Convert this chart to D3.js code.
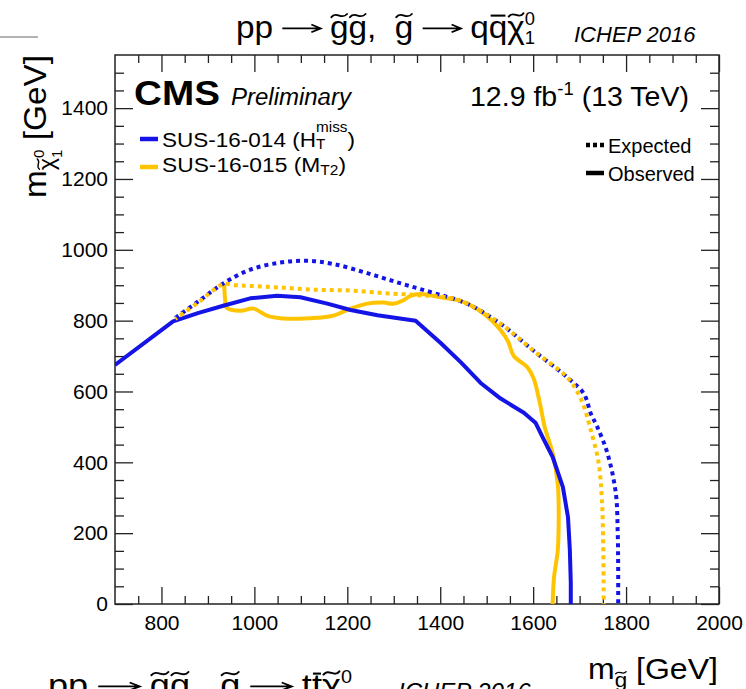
<!DOCTYPE html>
<html>
<head>
<meta charset="utf-8">
<script src="https://cdn.jsdelivr.net/npm/d3@7"></script>
<style>
  html, body { margin: 0; padding: 0; background: #fff; }
  svg { display: block; }
</style>
</head>
<body>
<svg id="chart" width="746" height="689"></svg>
<script>
// ---- Axis ticks -------------------------------------------------------
const gluinoMajorTicks = [800, 1000, 1200, 1400, 1600, 1800, 2000];
const lspMajorTicks = [0, 200, 400, 600, 800, 1000, 1200, 1400];

// ---- Exclusion contours: [m(gluino), m(LSP)] in GeV ----------------------
// SUS-16-014 (H_T^miss), observed
const obs014 = [[700,675],[825,798],[880,822],[933,842],[991,863],[1049,870],[1099,866],
  [1157,848],[1207,830],[1265,815],[1347,800],[1401,737],[1444,683],[1487,624],[1530,580],
  [1580,540],[1605,512],[1620,472],[1642,415],[1664,330],[1675,245],[1679,152],[1681,60],[1681,0]];
// SUS-16-014 (H_T^miss), expected
const exp014 = [[830,808],[880,855],[933,905],[991,944],[1056,964],[1114,969],[1170,960],
  [1243,934],[1315,905],[1386,878],[1459,847],[1530,791],[1601,715],[1674,639],[1709,594],
  [1724,538],[1738,500],[1760,425],[1778,312],[1782,200],[1783,100],[1783,0]];
// SUS-16-015 (M_T2), observed
const obs015 = [[935,905],[937,860],[940,837],[970,828],[998,834],[1027,814],[1062,806],
  [1135,808],[1170,814],[1207,834],[1243,848],[1278,851],[1299,848],[1320,857],[1336,870],
  [1358,875],[1401,866],[1444,856],[1480,833],[1515,795],[1545,744],[1558,701],[1588,668],
  [1601,637],[1614,570],[1625,499],[1642,425],[1653,340],[1655,245],[1653,152],[1645,76],[1642,0]];
// SUS-16-015 (M_T2), expected
const exp015 = [[830,805],[880,852],[933,903],[960,900],[991,898],[1062,893],[1135,887],
  [1207,885],[1278,878],[1351,872],[1422,864],[1459,847],[1530,791],[1601,715],[1674,639],
  [1698,592],[1710,555],[1722,500],[1740,406],[1748,293],[1751,152],[1752,0]];

const BLUE = "#1414e6";
const GOLD = "#ffc400";
const FONT = "'Liberation Sans', Arial, Helvetica, sans-serif";

const svg = d3.select("#chart");
svg.append("rect").attr("width", 746).attr("height", 689).attr("fill", "#fff");

const frame = { left: 115, right: 719, top: 55, bottom: 604 };
const x = d3.scaleLinear().domain([700, 2000]).range([frame.left, frame.right]);
const y = d3.scaleLinear().domain([0, 1550]).range([frame.bottom, frame.top]);

const xMinor = d3.range(750, 2000, 50).filter(v => v % 200 !== 0);
const yMinor = d3.range(50, 1550, 50).filter(v => v % 200 !== 0);

// ---- Rich text: sequential segments with sub/superscripts, accents, arrows ----
function richText(parent, segs, o) {
  const size = o.size;
  const color = o.color || "#000";
  const g = parent.append("g");
  const inner = g.append("g");
  let cx = 0, stackX = 0, stackW = 0;
  segs.forEach(s => {
    const fs = size * (s.s || 1);
    if (s.arrow) {
      // long right arrow drawn as a path
      const w = s.arrow * fs, ay = -0.3 * fs, h = 0.12 * fs;
      inner.append("path")
        .attr("d", `M${cx},${ay} L${cx + w - 0.04 * fs},${ay} M${cx + w - 0.28 * fs},${ay - h} L${cx + w},${ay} L${cx + w - 0.28 * fs},${ay + h}`)
        .attr("fill", "none").attr("stroke", color)
        .attr("stroke-width", fs * 0.055).attr("stroke-linejoin", "miter");
      cx += w;
      return;
    }
    const sx = s.stack === 2 ? stackX : cx;
    const by = (s.dy || 0) * size;
    const t = inner.append("text")
      .attr("x", sx).attr("y", by)
      .attr("font-size", fs)
      .attr("font-family", FONT)
      .attr("font-style", s.it ? "italic" : null)
      .attr("font-weight", s.b ? "bold" : null)
      .attr("fill", color)
      .style("white-space", "pre")
      .text(s.t);
    const w = t.node().getComputedTextLength();
    if (s.acc) {
      const ay = by - fs * (s.accY || 0.7);
      if (s.acc === "tilde") {
        const mid = sx + w / 2 + (s.accDx || 0) * fs;
        const hw = w * 0.42, a = fs * 0.05;
        inner.append("path")
          .attr("d", `M${mid - hw},${ay + a} C${mid - hw * 0.3},${ay - a * 3} ${mid + hw * 0.3},${ay + a * 3} ${mid + hw},${ay - a}`)
          .attr("fill", "none").attr("stroke", color)
          .attr("stroke-width", fs * 0.06).attr("stroke-linecap", "round");
      } else if (s.acc === "bar") {
        inner.append("line")
          .attr("x1", sx + w * 0.1).attr("x2", sx + w * 0.9)
          .attr("y1", ay).attr("y2", ay)
          .attr("stroke", color).attr("stroke-width", fs * 0.065);
      }
    }
    if (s.stack === 1) { stackX = cx; stackW = w; cx += w; }
    else if (s.stack === 2) { cx = stackX + Math.max(stackW, w); }
    else cx += w;
  });
  const k = o.width ? o.width / cx : 1;
  if (o.rotate) {
    g.attr("transform", `translate(${o.x},${o.y}) rotate(-90)`);
    inner.attr("transform", `scale(${k},1)`);
  } else {
    const x0 = o.anchor === "end" ? o.x - cx * k : o.x;
    inner.attr("transform", `translate(${x0},${o.y}) scale(${k},1)`);
  }
  return g;
}

// ---- Axes (ticks on all four sides, pointing inward) --------------------
function styleAxis(g) {
  g.select(".domain").remove();
  g.selectAll("line").attr("stroke", "#222").attr("stroke-width", 1.3);
  g.attr("font-family", FONT).attr("font-size", 21).attr("color", "#000");
}

svg.append("g").attr("transform", `translate(0,${frame.bottom})`)
  .call(d3.axisBottom(x).tickValues(gluinoMajorTicks).tickSize(-17).tickPadding(11).tickFormat(d3.format("d")))
  .call(styleAxis)
  .selectAll("text").attr("dy", "0.71em");
svg.append("g").attr("transform", `translate(0,${frame.bottom})`)
  .call(d3.axisBottom(x).tickValues(xMinor).tickSize(-8).tickFormat(""))
  .call(styleAxis);
svg.append("g").attr("transform", `translate(0,${frame.top})`)
  .call(d3.axisTop(x).tickValues(gluinoMajorTicks).tickSize(-17).tickFormat(""))
  .call(styleAxis);
svg.append("g").attr("transform", `translate(0,${frame.top})`)
  .call(d3.axisTop(x).tickValues(xMinor).tickSize(-8).tickFormat(""))
  .call(styleAxis);

svg.append("g").attr("transform", `translate(${frame.left},0)`)
  .call(d3.axisLeft(y).tickValues(lspMajorTicks).tickSize(-18).tickPadding(7).tickFormat(d3.format("d")))
  .call(styleAxis);
svg.append("g").attr("transform", `translate(${frame.left},0)`)
  .call(d3.axisLeft(y).tickValues(yMinor).tickSize(-9).tickFormat(""))
  .call(styleAxis);
svg.append("g").attr("transform", `translate(${frame.right},0)`)
  .call(d3.axisRight(y).tickValues(lspMajorTicks).tickSize(-18).tickFormat(""))
  .call(styleAxis);
svg.append("g").attr("transform", `translate(${frame.right},0)`)
  .call(d3.axisRight(y).tickValues(yMinor).tickSize(-9).tickFormat(""))
  .call(styleAxis);

svg.append("rect")
  .attr("x", frame.left).attr("y", frame.top)
  .attr("width", frame.right - frame.left).attr("height", frame.bottom - frame.top)
  .attr("fill", "none").attr("stroke", "#222").attr("stroke-width", 1.5);

// ---- Contours -----------------------------------------------------------
svg.append("clipPath").attr("id", "plotClip")
  .append("rect").attr("x", frame.left).attr("y", frame.top)
  .attr("width", frame.right - frame.left).attr("height", frame.bottom - frame.top);

const plot = svg.append("g").attr("clip-path", "url(#plotClip)");
const smooth = d3.line().x(d => x(d[0])).y(d => y(d[1])).curve(d3.curveCatmullRom.alpha(0.5));
const straight = d3.line().x(d => x(d[0])).y(d => y(d[1]));

plot.append("path").attr("d", smooth(obs015))
  .attr("fill", "none").attr("stroke", GOLD).attr("stroke-width", 4).attr("stroke-linejoin", "round");
plot.append("path").attr("d", straight(obs014))
  .attr("fill", "none").attr("stroke", BLUE).attr("stroke-width", 4).attr("stroke-linejoin", "round");
plot.append("path").attr("d", smooth(exp014))
  .attr("fill", "none").attr("stroke", BLUE).attr("stroke-width", 4).attr("stroke-dasharray", "4,4");
plot.append("path").attr("d", smooth(exp015))
  .attr("fill", "none").attr("stroke", GOLD).attr("stroke-width", 4).attr("stroke-dasharray", "4,4")
  .attr("stroke-dashoffset", 2);

// ---- Titles and labels --------------------------------------------------
// process title
const procTitle = (q) => [
  { t: "pp " }, { arrow: 1.15 }, { t: " " },
  { t: "g", acc: "tilde" }, { t: "g", acc: "tilde" }, { t: ",  " },
  { t: "g", acc: "tilde" }, { t: " " }, { arrow: 1.15 }, { t: " " },
  { t: q }, { t: q, acc: "bar" },
  { t: "\u03c7", acc: "tilde", accY: 0.72 },
  { t: "0", s: 0.55, dy: -0.42, stack: 1 }, { t: "1", s: 0.55, dy: 0.2, stack: 2 }
];
richText(svg, procTitle("q"), { x: 236, y: 38, size: 32, width: 299 });
svg.append("text").attr("x", 574).attr("y", 42)
  .attr("font-family", FONT).attr("font-size", 22).attr("font-style", "italic")
  .text("ICHEP 2016");

// next panel's title, cut by the page edge
richText(svg, procTitle("t"), { x: 48, y: 696, size: 32, width: 304 });
svg.append("text").attr("x", 398).attr("y", 700)
  .attr("font-family", FONT).attr("font-size", 24).attr("font-style", "italic")
  .text("ICHEP 2016");

svg.append("line").attr("x1", 0).attr("x2", 38).attr("y1", 37).attr("y2", 37)
  .attr("stroke", "#999").attr("stroke-width", 1.5);

// CMS label
richText(svg, [{ t: "CMS", b: true }], { x: 134, y: 105, size: 36, width: 86 });
richText(svg, [{ t: "Preliminary", it: true }], { x: 231, y: 105, size: 24, width: 120 });

// luminosity
richText(svg, [
  { t: "12.9 fb" }, { t: "-1", s: 0.65, dy: -0.42 }, { t: " (13 TeV)" }
], { x: 689, y: 106, size: 27, anchor: "end", width: 219 });

// axis titles
richText(svg, [
  { t: "m" }, { t: "g", s: 0.7, dy: 0.28, acc: "tilde" }, { t: " [GeV]" }
], { x: 718, y: 679, size: 30, anchor: "end", width: 130 });

richText(svg, [
  { t: "m" }, { t: "\u03c7", s: 0.7, dy: 0.25, acc: "tilde" },
  { t: "0", s: 0.45, dy: -0.05, stack: 1 }, { t: "1", s: 0.45, dy: 0.5, stack: 2 },
  { t: " [GeV]" }
], { x: 46, y: 198, size: 32, rotate: true, width: 143 });

// ---- Legends ------------------------------------------------------------
const analyses = [
  { color: BLUE, y: 139, base: 147,
    segs: [{ t: "SUS-16-014 (H" }, { t: "miss", s: 0.68, dy: -0.7, stack: 1 },
           { t: "T", s: 0.68, dy: 0.1, stack: 2 }, { t: ")" }], width: 193 },
  { color: GOLD, y: 167, base: 172,
    segs: [{ t: "SUS-16-015 (M" }, { t: "T2", s: 0.68, dy: 0.14 }, { t: ")" }], width: 184 }
];
analyses.forEach(a => {
  svg.append("line").attr("x1", 140).attr("x2", 158).attr("y1", a.y).attr("y2", a.y)
    .attr("stroke", a.color).attr("stroke-width", 4.5);
  richText(svg, a.segs, { x: 162, y: a.base, size: 21, width: a.width });
});

const styles = [
  { label: "Expected", dash: "4,3", y: 145, base: 153 },
  { label: "Observed", dash: null, y: 173, base: 181 }
];
styles.forEach(s => {
  svg.append("line").attr("x1", 586).attr("x2", 604).attr("y1", s.y).attr("y2", s.y)
    .attr("stroke", "#000").attr("stroke-width", 4.5).attr("stroke-dasharray", s.dash);
  svg.append("text").attr("x", 608).attr("y", s.base)
    .attr("font-family", FONT).attr("font-size", 20).text(s.label);
});
</script>
</body>
</html>
